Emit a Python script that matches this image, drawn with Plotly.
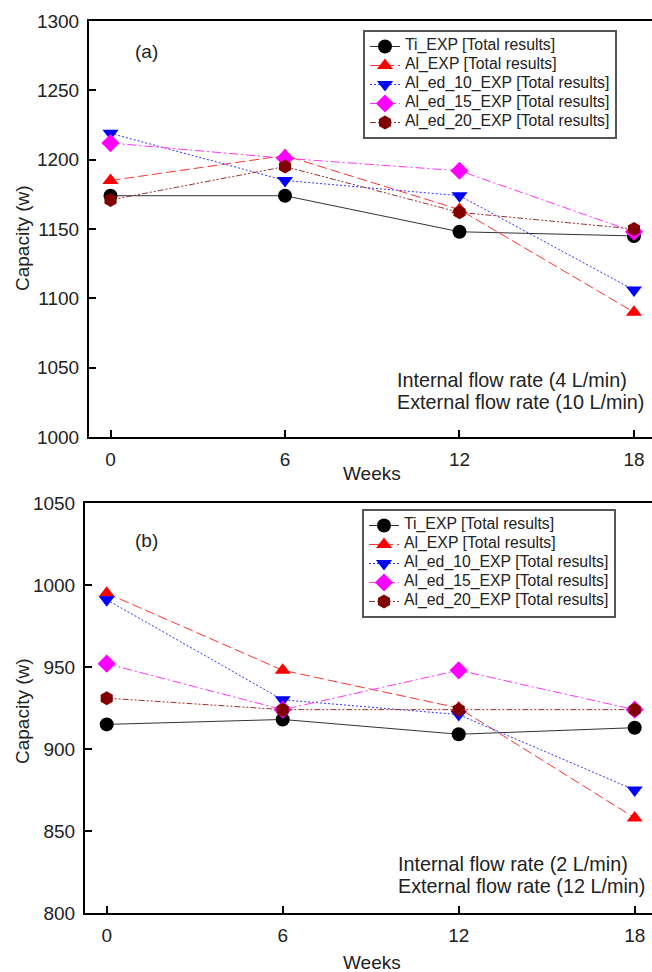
import plotly.graph_objects as go

weeks = [0, 6, 12, 18]
names = ["Ti_EXP [Total results]", "Al_EXP [Total results]", "Al_ed_10_EXP [Total results]",
         "Al_ed_15_EXP [Total results]", "Al_ed_20_EXP [Total results]"]

# Panel (a): internal 4 L/min, external 10 L/min
a_ti = [1174, 1174, 1148, 1145]
a_al = [1185, 1203, 1164, 1090]
a_al10 = [1219, 1185, 1174, 1106]
a_al15 = [1212, 1201, 1192, 1148]
a_al20 = [1171, 1195, 1162, 1150]

# Panel (b): internal 2 L/min, external 12 L/min
b_ti = [915, 918, 909, 913]
b_al = [995, 948, 925, 858]
b_al10 = [991, 930, 921, 875]
b_al15 = [952, 924, 948, 924]
b_al20 = [931, 924, 924, 924]

a_ticks = [1000, 1050, 1100, 1150, 1200, 1250, 1300]
b_ticks = [800, 850, 900, 950, 1000, 1050]

colors = ["#000000", "#FF0000", "#0000FF", "#FF00FF", "#800000"]
symbols = ["circle", "triangle-up", "triangle-down", "diamond", "hexagon"]
dashes = ["solid", "10px,4px", "2px,2px", "9px,3px,2px,3px", "6px,2px,2px,2px,2px,2px"]
line_colors = ["#333333", "#FF3333", "#3333FF", "#FF33FF", "#993333"]

W, H = 652, 972
FONT = "Arial, Liberation Sans, sans-serif"

fig = go.Figure()
for panel, (series, xa, ya, lg) in enumerate([
    ([a_ti, a_al, a_al10, a_al15, a_al20], "x", "y", "legend"),
    ([b_ti, b_al, b_al10, b_al15, b_al20], "x2", "y2", "legend2"),
]):
    for i, vals in enumerate(series):
        fig.add_trace(go.Scatter(
            x=weeks, y=vals, name='<span style="font-size:15.8px">' + names[i] + '</span>',
            mode="lines+markers",
            line=dict(color=line_colors[i], width=1, dash=dashes[i]),
            marker=dict(symbol=symbols[i], size=14, color=colors[i], line=dict(width=0)),
            xaxis=xa, yaxis=ya, legend=lg,
        ))

def px_x(p):
    return p / W

def px_y(p):
    return 1 - p / H

axis_common = dict(showline=True, linecolor="black", linewidth=2, ticks="inside", ticklen=7,
                   tickwidth=1.5, tickcolor="black", showgrid=False, zeroline=False,
                   automargin=False,
                   tickfont=dict(family=FONT, size=19, color="#222222"), ticklabelstandoff=4)

legend_common = dict(xanchor="left", yanchor="top", bordercolor="#555555", borderwidth=2,
                     bgcolor="white", font=dict(family=FONT, size=10, color="#222222"),
                     tracegroupgap=0)

fig.update_layout(
    width=W, height=H, margin=dict(l=0, r=0, t=0, b=0, autoexpand=False),
    paper_bgcolor="white", plot_bgcolor="white", showlegend=True,
    xaxis=dict(domain=[px_x(89), 1], range=[-0.74, 18.62], tickvals=weeks, mirror=True,
               anchor="y", **axis_common),
    yaxis=dict(domain=[px_y(437), px_y(21)], range=[1000, 1300], tickvals=a_ticks, mirror=False,
               anchor="x", **axis_common),
    xaxis2=dict(domain=[px_x(85), 1], range=[-0.74, 18.59], tickvals=weeks, mirror=True,
                anchor="y2", **axis_common),
    yaxis2=dict(domain=[px_y(913), px_y(503)], range=[800, 1050], tickvals=b_ticks, mirror=False,
                anchor="x2", **axis_common),
    legend=dict(x=px_x(363), y=px_y(30), **legend_common),
    legend2=dict(x=px_x(362), y=px_y(509), **legend_common),
)

def ann(text, x, y, size=19, xanchor="center", angle=0):
    fig.add_annotation(text=text, x=px_x(x), y=px_y(y), xref="paper", yref="paper",
                       xanchor=xanchor, yanchor="middle", showarrow=False, textangle=angle,
                       font=dict(family=FONT, size=size, color="#222222"))

ann("(a)", 146, 52)
ann("(b)", 146, 540)
ann("Weeks", 372, 474)
ann("Weeks", 372, 962)
ann("Capacity (w)", 22, 238, angle=-90)
ann("Capacity (w)", 22, 711, angle=-90)
ann("Internal flow rate (4 L/min)", 395, 380, size=19.8, xanchor="left")
ann("External flow rate (10 L/min)", 395, 402, size=19.8, xanchor="left")
ann("Internal flow rate (2 L/min)", 396, 864, size=19.8, xanchor="left")
ann("External flow rate (12 L/min)", 396, 886, size=19.8, xanchor="left")

fig.write_html("out.html")
